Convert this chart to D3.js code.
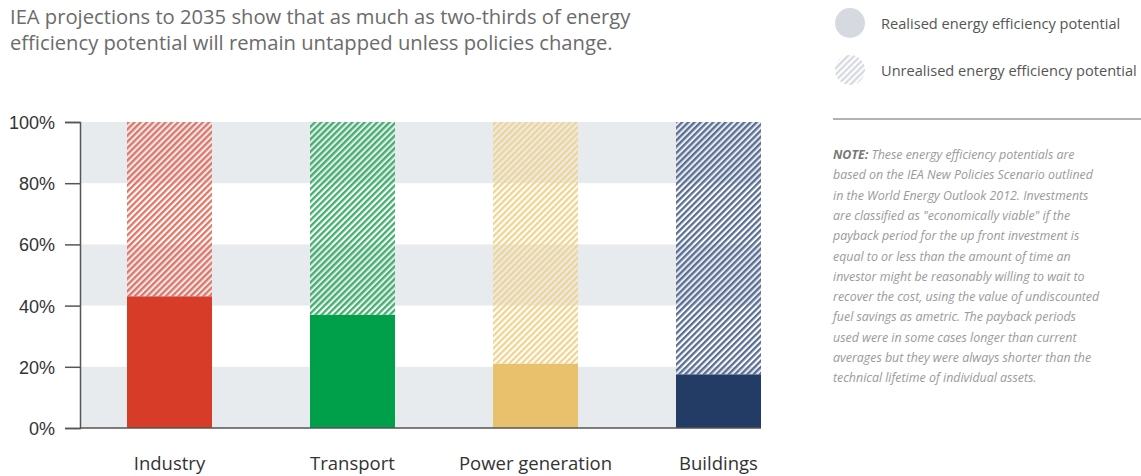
<!DOCTYPE html>
<html>
<head>
<meta charset="utf-8">
<script src="https://cdn.jsdelivr.net/npm/d3@7"></script>
<style>
  body { margin: 0; background: #fff; }
  svg { display: block; font-family: "Open Sans", sans-serif; }
</style>
</head>
<body>
<svg id="chart" width="1141" height="476"></svg>
<script>
// sectors and share of potential realised by 2035 (%)
var sectors  = ['Industry', 'Transport', 'Power generation', 'Buildings'];
var realised = [43, 37, 21, 17.5];
var colours  = ['#d63c27', '#00a04a', '#e9c06b', '#233c66'];
var hatches  = ['#e27565', '#40b06c', '#f0d48f', '#5a6e94'];
var yTicks   = [0, 20, 40, 60, 80, 100];

var titleLines = [
    'IEA projections to 2035 show that as much as two-thirds of energy',
    'efficiency potential will remain untapped unless policies change.'
];
var legendLabels = ['Realised energy efficiency potential', 'Unrealised energy efficiency potential'];
var noteLines = [
    'These energy efficiency potentials are',
    'based on the IEA New Policies Scenario outlined',
    'in the World Energy Outlook 2012. Investments',
    'are classified as "economically viable" if the',
    'payback period for the up front investment is',
    'equal to or less than the amount of time an',
    'investor might be reasonably willing to wait to',
    'recover the cost, using the value of undiscounted',
    'fuel savings as ametric. The payback periods',
    'used were in some cases longer than current',
    'averages but they were always shorter than the',
    'technical lifetime of individual assets.'
];

var svg = d3.select('#chart');
var defs = svg.append('defs');

function hatch(id, colour) {
    var p = defs.append('pattern')
        .attr('id', id)
        .attr('patternUnits', 'userSpaceOnUse')
        .attr('width', 4.4).attr('height', 4.4)
        .attr('patternTransform', 'rotate(45)');
    p.append('rect').attr('x', 0).attr('y', 0).attr('width', 2.3).attr('height', 4.4)
        .attr('fill', colour);
}
sectors.forEach(function(s, i) { hatch('hatch' + i, hatches[i]); });
hatch('hatchLegend', '#d6dae0');

var y = d3.scaleLinear().domain([0, 100]).range([428, 122]);
var x = d3.scaleBand().domain(sectors).range([127, 761]).paddingInner(0.5355).paddingOuter(0);

// alternating background bands
var bands = [0, 40, 80];
svg.append('g').selectAll('rect').data(bands).enter().append('rect')
    .attr('x', 81)
    .attr('width', 761 - 81)
    .attr('y', function(d) { return y(d + 20); })
    .attr('height', function(d) { return y(d) - y(d + 20); })
    .attr('fill', '#e8ebee');

// unrealised (hatched) part
svg.append('g').selectAll('rect').data(sectors).enter().append('rect')
    .attr('x', function(d) { return x(d); })
    .attr('width', x.bandwidth())
    .attr('y', y(100))
    .attr('height', function(d, i) { return y(realised[i]) - y(100); })
    .attr('fill', function(d, i) { return 'url(#hatch' + i + ')'; });

// realised part
svg.append('g').selectAll('rect').data(sectors).enter().append('rect')
    .attr('x', function(d) { return x(d); })
    .attr('width', x.bandwidth())
    .attr('y', function(d, i) { return y(realised[i]); })
    .attr('height', function(d, i) { return y(0) - y(realised[i]); })
    .attr('fill', function(d, i) { return colours[i]; });

// y axis
var yAxis = svg.append('g')
    .attr('transform', 'translate(80,0)')
    .call(d3.axisLeft(y).tickValues(yTicks).tickSize(15).tickPadding(10)
        .tickFormat(function(d) { return d + '%'; }));
yAxis.select('.domain').attr('stroke', '#555').attr('stroke-width', 1.5);
yAxis.selectAll('.tick line').attr('stroke', '#555').attr('stroke-width', 1.5);
yAxis.selectAll('.tick text').attr('font-size', 18).attr('fill', '#333').attr('dy', '0.36em');

// baseline
svg.append('line')
    .attr('x1', 80).attr('x2', 761)
    .attr('y1', y(0)).attr('y2', y(0))
    .attr('stroke', '#555').attr('stroke-width', 1.5);

// x labels
svg.append('g').selectAll('text').data(sectors).enter().append('text')
    .attr('x', function(d) { return x(d) + x.bandwidth() / 2; })
    .attr('y', 470)
    .attr('text-anchor', 'middle')
    .attr('font-size', 18.5)
    .attr('fill', '#333')
    .text(function(d) { return d; });

// title
svg.append('g').selectAll('text').data(titleLines).enter().append('text')
    .attr('x', 10)
    .attr('y', function(d, i) { return 24 + i * 26; })
    .attr('font-size', 20.2)
    .attr('fill', '#6b6b6b')
    .text(function(d) { return d; });

// legend
var legend = svg.append('g');
legend.append('circle').attr('cx', 850).attr('cy', 23).attr('r', 15).attr('fill', '#d6dae0');
legend.append('circle').attr('cx', 850).attr('cy', 70).attr('r', 15).attr('fill', 'url(#hatchLegend)');
legend.selectAll('text').data(legendLabels).enter().append('text')
    .attr('x', 881)
    .attr('y', function(d, i) { return 29 + i * 47; })
    .attr('font-size', 14.6)
    .attr('fill', '#555')
    .text(function(d) { return d; });

// separator
svg.append('line')
    .attr('x1', 833).attr('x2', 1141)
    .attr('y1', 119).attr('y2', 119)
    .attr('stroke', '#999').attr('stroke-width', 1.5);

// note
var note = svg.append('g')
    .attr('font-size', 12.4)
    .attr('font-style', 'italic')
    .attr('fill', '#9a9a9a');
note.selectAll('text').data(noteLines).enter().append('text')
    .attr('x', 833)
    .attr('y', function(d, i) { return 159 + i * 20.3; })
    .each(function(d, i) {
        var t = d3.select(this);
        if (i === 0) {
            t.append('tspan').attr('font-weight', 'bold').attr('fill', '#777').text('NOTE:');
            t.append('tspan').text('  ' + d);
        } else {
            t.text(d);
        }
    });
</script>
</body>
</html>
